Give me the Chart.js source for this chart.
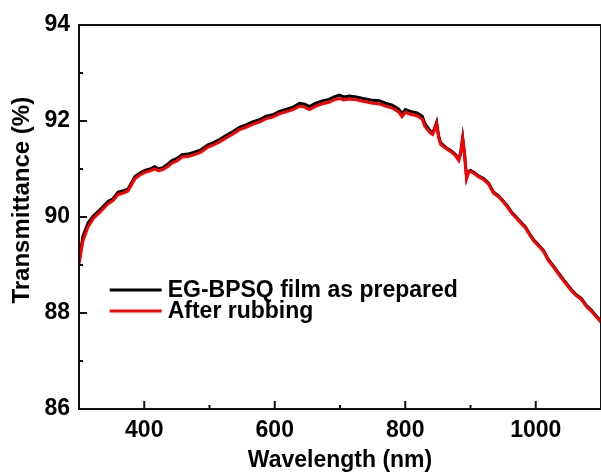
<!DOCTYPE html>
<html>
<head>
<meta charset="utf-8">
<script src="https://cdn.jsdelivr.net/npm/chart.js@4"></script>
<style>
  html, body { margin: 0; padding: 0; background: #fff; }
  #wrap { width: 601px; height: 474px; }
</style>
</head>
<body>
<div id="wrap"><canvas id="spectrum" width="601" height="474"></canvas></div>
<script>
const wavelength = [300, 306, 314, 322, 332, 345, 352, 360, 368, 375, 386, 394, 401, 409, 416, 422, 429, 436, 442, 450,
    458, 467, 477, 487, 497, 506, 516, 526, 536, 546, 556, 566, 577, 587, 597, 607, 617, 627, 638, 646,
    653, 663, 673, 683, 691, 699, 706, 714, 725, 735, 743, 750, 760, 770, 780, 790, 795, 800, 808, 818,
    826, 830, 834, 838, 842, 845, 848, 851, 854, 862, 870, 877, 882, 885, 888, 891, 894, 897, 900, 906,
    912, 920, 928, 935, 943, 951, 957, 963, 970, 978, 984, 989, 997, 1004, 1012, 1019, 1027, 1035, 1045, 1055,
    1062, 1070, 1078, 1085, 1092, 1100]

const asPrepared = [89.05, 89.6, 89.88, 90.02, 90.15, 90.33, 90.38, 90.52, 90.55, 90.58, 90.85, 90.92, 90.97, 91.0, 91.05, 91.0, 91.03, 91.1, 91.17, 91.22,
    91.3, 91.31, 91.35, 91.4, 91.5, 91.55, 91.62, 91.7, 91.78, 91.87, 91.92, 91.98, 92.03, 92.1, 92.13, 92.2, 92.24, 92.28, 92.37, 92.35,
    92.3, 92.37, 92.42, 92.45, 92.5, 92.54, 92.5, 92.52, 92.5, 92.47, 92.45, 92.43, 92.42, 92.37, 92.33, 92.25, 92.15, 92.24, 92.2, 92.17,
    92.1, 91.95, 91.87, 91.8, 91.75, 91.85, 91.97, 91.7, 91.55, 91.45, 91.38, 91.3, 91.2, 91.35, 91.65, 91.3, 90.82, 90.95, 90.97, 90.92,
    90.86, 90.8, 90.7, 90.52, 90.44, 90.32, 90.22, 90.1, 90.0, 89.88, 89.8, 89.68, 89.52, 89.42, 89.3, 89.12, 88.98, 88.83, 88.65, 88.48,
    88.38, 88.3, 88.15, 88.06, 87.95, 87.83]

const afterRubbing = [89.02, 89.5, 89.8, 89.97, 90.1, 90.28, 90.34, 90.47, 90.5, 90.54, 90.8, 90.88, 90.93, 90.96, 91.0, 90.96, 90.99, 91.05, 91.12, 91.17,
    91.25, 91.26, 91.3, 91.35, 91.45, 91.5, 91.57, 91.65, 91.73, 91.82, 91.87, 91.93, 91.98, 92.05, 92.08, 92.15, 92.19, 92.23, 92.31, 92.29,
    92.24, 92.31, 92.36, 92.39, 92.44, 92.47, 92.44, 92.46, 92.44, 92.41, 92.39, 92.37, 92.36, 92.31, 92.27, 92.19, 92.09, 92.18, 92.14, 92.11,
    92.04, 91.89, 91.82, 91.76, 91.72, 91.82, 91.94, 91.67, 91.52, 91.43, 91.36, 91.28, 91.18, 91.33, 91.63, 91.28, 90.8, 90.93, 90.95, 90.9,
    90.84, 90.78, 90.68, 90.5, 90.42, 90.3, 90.2, 90.08, 89.98, 89.86, 89.78, 89.66, 89.5, 89.4, 89.28, 89.1, 88.96, 88.81, 88.63, 88.46,
    88.36, 88.28, 88.13, 88.04, 87.93, 87.81]

const xTicks = [400, 600, 800, 1000]
const yTicks = [86, 88, 90, 92, 94]

const boldFont = "'Liberation Sans', Arial, sans-serif"

// frame, inward ticks, y title and the legend inside the plot
const frameAndLegend = {
    id: 'frameAndLegend',
    afterDraw(chart) {
        const ctx = chart.ctx
        const a = chart.chartArea
        const xs = chart.scales.x
        const ys = chart.scales.y
        ctx.save()
        ctx.strokeStyle = '#111'
        ctx.lineWidth = 2
        ctx.strokeRect(a.left, a.top, a.right - a.left, a.bottom - a.top)

        for (let v = 300; v <= 1100; v += 100) {
            const px = xs.getPixelForValue(v)
            const len = xTicks.includes(v) ? 8 : 4
            ctx.beginPath()
            ctx.moveTo(px, a.bottom)
            ctx.lineTo(px, a.bottom - len)
            ctx.stroke()
        }
        for (let v = 86; v <= 94; v += 1) {
            const py = ys.getPixelForValue(v)
            const len = yTicks.includes(v) ? 8 : 4
            ctx.beginPath()
            ctx.moveTo(a.left, py)
            ctx.lineTo(a.left + len, py)
            ctx.stroke()
        }

        // y title sits a bit above the middle in the original
        ctx.fillStyle = '#000'
        ctx.font = 'bold 24px ' + boldFont
        ctx.textAlign = 'center'
        ctx.textBaseline = 'middle'
        ctx.save()
        ctx.translate(22, ys.getPixelForValue(90.35))
        ctx.rotate(-Math.PI / 2)
        ctx.fillText('Transmittance (%)', 0, 0)
        ctx.restore()

        // legend
        const lx = xs.getPixelForValue(347)
        const ly = [ys.getPixelForValue(88.48), ys.getPixelForValue(88.04)]
        ctx.font = 'bold 23px ' + boldFont
        ctx.textAlign = 'left'
        chart.data.datasets.forEach((ds, i) => {
            ctx.strokeStyle = ds.borderColor
            ctx.lineWidth = 3
            ctx.beginPath()
            ctx.moveTo(lx, ly[i])
            ctx.lineTo(lx + 52, ly[i])
            ctx.stroke()
            ctx.fillText(ds.label, lx + 58, ly[i] + 1)
        })
        ctx.restore()
    }
}

new Chart(document.getElementById('spectrum'), {
    type: 'line',
    data: {
        datasets: [{
            label: 'EG-BPSQ film as prepared',
            data: wavelength.map((w, i) => ({ x: w, y: asPrepared[i] })),
            borderColor: '#000000',
            borderWidth: 3,
            pointRadius: 0,
            tension: 0,
            order: 2,
        }, {
            label: 'After rubbing',
            data: wavelength.map((w, i) => ({ x: w, y: afterRubbing[i] })),
            borderColor: '#ff0000',
            borderWidth: 3,
            pointRadius: 0,
            tension: 0,
            order: 1,
        }]
    },
    options: {
        responsive: false,
        animation: false,
        layout: { padding: { top: 25, right: 0, left: 0, bottom: 0 } },
        plugins: {
            legend: { display: false },
            tooltip: { enabled: false },
        },
        scales: {
            x: {
                type: 'linear',
                min: 300,
                max: 1100,
                afterFit(scale) { scale.height = 65 },
                afterBuildTicks(scale) { scale.ticks = xTicks.map(v => ({ value: v })) },
                grid: { display: false, drawTicks: false },
                border: { display: false },
                ticks: {
                    color: '#000',
                    padding: 8,
                    maxRotation: 0,
                    callback: v => String(v),
                    font: { family: boldFont, size: 23, weight: 'bold' },
                },
                title: {
                    display: true,
                    text: 'Wavelength (nm)',
                    color: '#000',
                    padding: { top: 0, bottom: 0 },
                    font: { family: boldFont, size: 23, weight: 'bold' },
                },
            },
            y: {
                type: 'linear',
                min: 86,
                max: 94,
                afterFit(scale) { scale.width = 79 },
                afterBuildTicks(scale) { scale.ticks = yTicks.map(v => ({ value: v })) },
                grid: { display: false, drawTicks: false },
                border: { display: false },
                ticks: {
                    color: '#000',
                    padding: 9,
                    callback: v => String(v),
                    font: { family: boldFont, size: 23, weight: 'bold' },
                },
            },
        },
    },
    plugins: [frameAndLegend],
})
</script>
</body>
</html>
